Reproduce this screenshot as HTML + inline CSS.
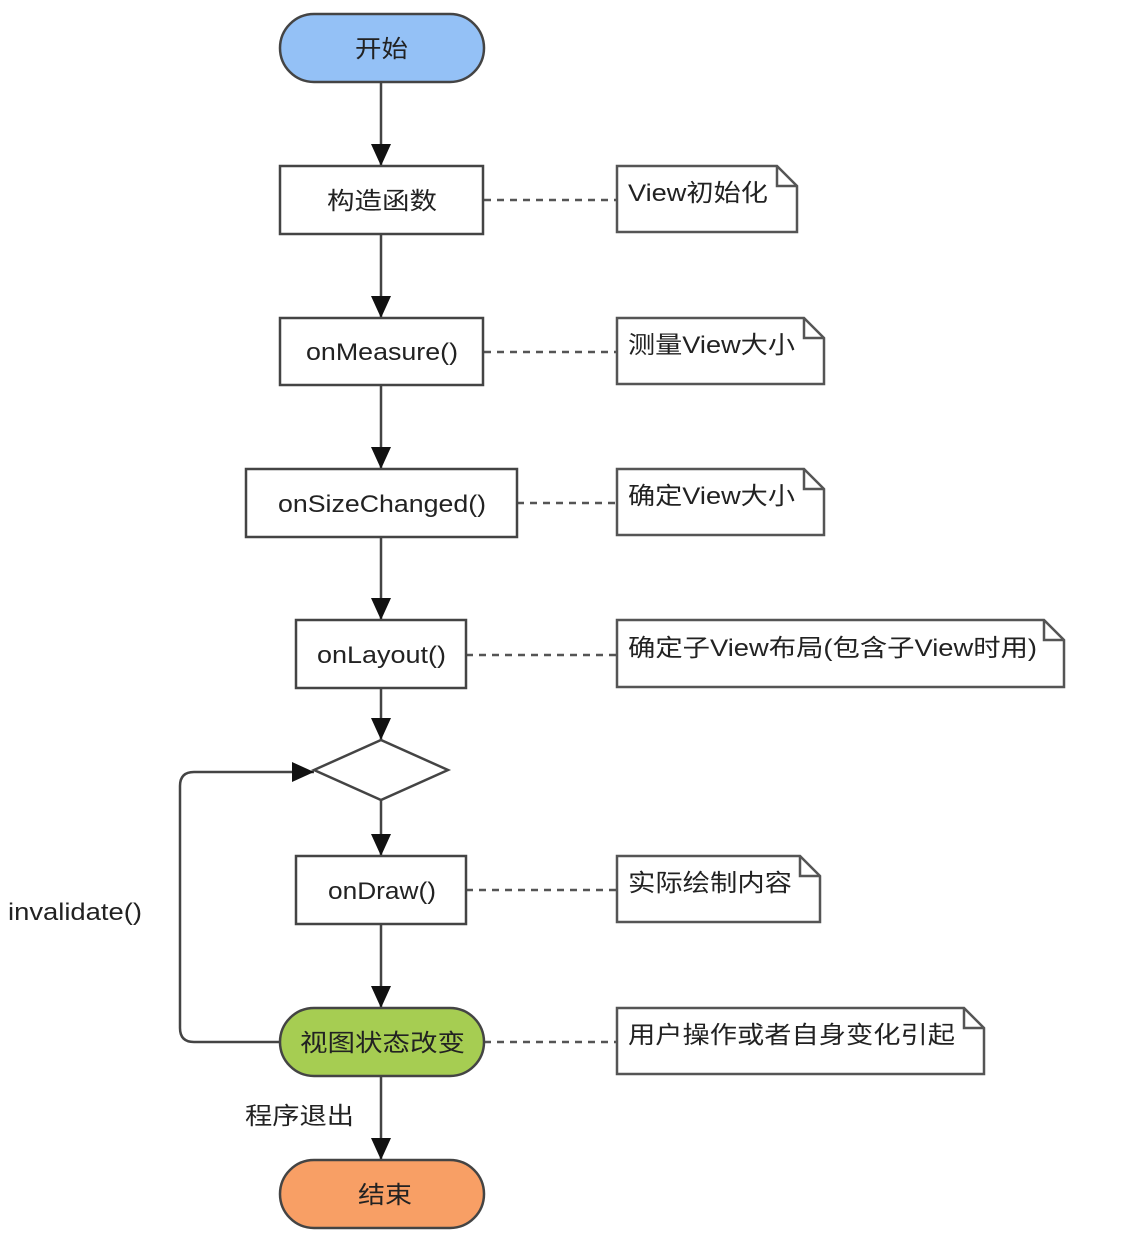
<!DOCTYPE html>
<html><head><meta charset="utf-8"><style>
html,body{margin:0;padding:0;background:#fff;}
svg{display:block;}
text{font-family:"Liberation Sans","Noto Sans CJK SC",sans-serif;fill:#222;}
</style></head><body>
<svg width="1122" height="1258" viewBox="0 0 1122 1258" xmlns="http://www.w3.org/2000/svg">
<defs>
<marker id="a" markerWidth="12" markerHeight="12" refX="10" refY="6" orient="auto" markerUnits="userSpaceOnUse">
<path d="M0,0 L10,6 L0,12 z" fill="#111"/>
</marker>
<marker id="b" markerWidth="24" markerHeight="20" refX="22" refY="10" orient="auto" markerUnits="userSpaceOnUse">
<path d="M0,0 L22,10 L0,20 z" fill="#111"/>
</marker>
</defs>
<g stroke="#444" stroke-width="2.5" fill="none">
<line x1="381" y1="82" x2="381" y2="166" marker-end="url(#b)"/>
<line x1="381" y1="234" x2="381" y2="318" marker-end="url(#b)"/>
<line x1="381" y1="385" x2="381" y2="469" marker-end="url(#b)"/>
<line x1="381" y1="537" x2="381" y2="620" marker-end="url(#b)"/>
<line x1="381" y1="688" x2="381" y2="740" marker-end="url(#b)"/>
<line x1="381" y1="800" x2="381" y2="856" marker-end="url(#b)"/>
<line x1="381" y1="924" x2="381" y2="1008" marker-end="url(#b)"/>
<line x1="381" y1="1076" x2="381" y2="1160" marker-end="url(#b)"/>
<path d="M280,1042 H194 Q180,1042 180,1028 V786 Q180,772 194,772 H314" marker-end="url(#b)"/>
</g>
<g stroke="#555" stroke-width="2.5" stroke-dasharray="7,6">
<line x1="484" y1="200" x2="617" y2="200"/>
<line x1="484" y1="352" x2="617" y2="352"/>
<line x1="517" y1="503" x2="617" y2="503"/>
<line x1="466" y1="655" x2="617" y2="655"/>
<line x1="466" y1="890" x2="617" y2="890"/>
<line x1="484" y1="1042" x2="617" y2="1042"/>
</g>
<g stroke="#444" stroke-width="2.5">
<rect x="280" y="14" width="204" height="68" rx="34" fill="#94c1f6"/>
<rect x="280" y="166" width="203" height="68" fill="#fff"/>
<rect x="280" y="318" width="203" height="67" fill="#fff"/>
<rect x="246" y="469" width="271" height="68" fill="#fff"/>
<rect x="296" y="620" width="170" height="68" fill="#fff"/>
<polygon points="314,770 381,740 448,770 381,800" fill="#fff"/>
<rect x="296" y="856" width="170" height="68" fill="#fff"/>
<rect x="280" y="1008" width="204" height="68" rx="34" fill="#a6cd52"/>
<rect x="280" y="1160" width="204" height="68" rx="34" fill="#f89f65"/>
</g>
<g stroke="#555" stroke-width="2.5" fill="#fff">
<path d="M617,166 H777 L797,186 V232 H617 Z"/><path d="M777,166 V186 H797" fill="none"/>
<path d="M617,318 H804 L824,338 V384 H617 Z"/><path d="M804,318 V338 H824" fill="none"/>
<path d="M617,469 H804 L824,489 V535 H617 Z"/><path d="M804,469 V489 H824" fill="none"/>
<path d="M617,620 H1044 L1064,640 V687 H617 Z"/><path d="M1044,620 V640 H1064" fill="none"/>
<path d="M617,856 H800 L820,876 V922 H617 Z"/><path d="M800,856 V876 H820" fill="none"/>
<path d="M617,1008 H964 L984,1028 V1074 H617 Z"/><path d="M964,1008 V1028 H984" fill="none"/>
</g>
<g font-size="24">
<text x="355" y="57" textLength="53" lengthAdjust="spacingAndGlyphs">开始</text>
<text x="327" y="209" textLength="110" lengthAdjust="spacingAndGlyphs">构造函数</text>
<text x="306" y="360" textLength="152" lengthAdjust="spacingAndGlyphs">onMeasure()</text>
<text x="278" y="512" textLength="208" lengthAdjust="spacingAndGlyphs">onSizeChanged()</text>
<text x="317" y="663" textLength="129" lengthAdjust="spacingAndGlyphs">onLayout()</text>
<text x="328" y="899" textLength="108" lengthAdjust="spacingAndGlyphs">onDraw()</text>
<text x="300" y="1051" textLength="165" lengthAdjust="spacingAndGlyphs">视图状态改变</text>
<text x="358" y="1203" textLength="54" lengthAdjust="spacingAndGlyphs">结束</text>
<text x="8" y="920" textLength="134" lengthAdjust="spacingAndGlyphs">invalidate()</text>
<text x="245" y="1124" textLength="109" lengthAdjust="spacingAndGlyphs">程序退出</text>
<text x="628" y="201" textLength="140" lengthAdjust="spacingAndGlyphs">View初始化</text>
<text x="628" y="353" textLength="167" lengthAdjust="spacingAndGlyphs">测量View大小</text>
<text x="628" y="504" textLength="167" lengthAdjust="spacingAndGlyphs">确定View大小</text>
<text x="628" y="656" textLength="409" lengthAdjust="spacingAndGlyphs">确定子View布局(包含子View时用)</text>
<text x="628" y="891" textLength="164" lengthAdjust="spacingAndGlyphs">实际绘制内容</text>
<text x="628" y="1043" textLength="327" lengthAdjust="spacingAndGlyphs">用户操作或者自身变化引起</text>
</g>
</svg>
</body></html>
